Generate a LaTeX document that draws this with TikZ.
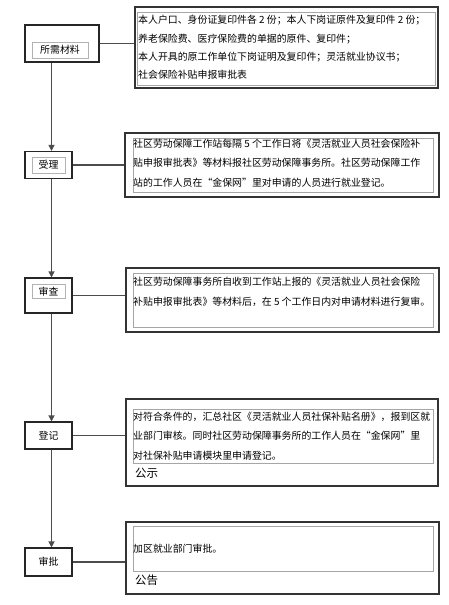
\documentclass[tikz,border=0pt]{standalone}
\usepackage{fontspec}
\newfontfamily\cjk{Noto Sans CJK SC}
\usetikzlibrary{arrows.meta,positioning,calc}

\begin{document}
\begin{tikzpicture}[x=1pt,y=-1pt,
  every node/.style={font=\cjk\fontsize{9.9}{19.5}\selectfont},
  stage/.style={draw=black!85,line width=1.1pt,inner sep=0pt,minimum width=47pt,minimum height=27pt},
  lbl/.style={draw=black!30,line width=0.5pt,inner sep=0pt,minimum height=16pt,minimum width=33pt},
  detail/.style={draw=black!80,line width=1.5pt,inner sep=0pt},
  frame/.style={draw=black!35,line width=0.6pt,inner sep=0pt,minimum width=300pt},
  txt/.style={align=left,inner sep=0pt,anchor=west},
  big/.style={anchor=west,inner sep=0pt,font=\cjk\fontsize{11.5}{14}\selectfont},
  link/.style={draw=black!70,line width=1.1pt},
  flow/.style={link,-{Triangle[length=6pt,width=6pt]}}]
\useasboundingbox (0,0) rectangle (448,605);
\node[stage,minimum width=74pt,minimum height=37pt] (s1) at (62,43.5) {};
\node[stage] (s2) at (48.5,165) {};
\node[stage,minimum height=35pt] (s3) at (48.5,295.5) {};
\node[stage] (s4) at (48.5,435.5) {};
\node[stage,minimum height=28pt] (s5) at (48.5,562) {};
\node[lbl,minimum width=56pt] (l1) at (60,50) {所需材料};
\node[lbl] (l2) at (48.5,165) {受理};
\node[lbl,minimum height=14pt] (l3) at (48.5,291.5) {审查};
\node[lbl,draw=none] (l4) at (48.5,436) {登记};
\node[lbl,draw=none] (l5) at (48.5,562) {审批};
\node[detail,minimum width=303pt,minimum height=81pt] (d1) at (286.5,47.5) {};
\node[frame,minimum width=298pt,minimum height=73pt] (f1) at (286,48.5) {};
\node[txt,font=\cjk\fontsize{9.9}{18.3}\selectfont] (t1) at (138,47.5) {本人户口、身份证复印件各 2 份；本人下岗证原件及复印件 2 份；\\养老保险费、医疗保险费的单据的原件、复印件；\\本人开具的原工作单位下岗证明及复印件；灵活就业协议书；\\社会保险补贴申报审批表};
\node[detail,minimum width=314pt,minimum height=64pt] (d2) at (282,165) {};
\node[frame,minimum height=54pt] (f2) at (283,165) {};
\node[txt] (t2) at (133,163) {社区劳动保障工作站每隔 5 个工作日将《灵活就业人员社会保险补\\贴申报审批表》等材料报社区劳动保障事务所。社区劳动保障工作\\站的工作人员在“金保网”里对申请的人员进行就业登记。};
\node[detail,minimum width=313pt,minimum height=64pt] (d3) at (282.5,300) {};
\node[frame,minimum height=54pt] (f3) at (283,300) {};
\node[txt] (t3) at (133,292) {社区劳动保障事务所自收到工作站上报的《灵活就业人员社会保险\\补贴申报审批表》等材料后，在 5 个工作日内对申请材料进行复审。};
\node[detail,minimum width=312pt,minimum height=87pt] (d4) at (282,442.5) {};
\node[frame,minimum height=54pt] (f4) at (283,436) {};
\node[txt] (t4) at (133,436) {对符合条件的，汇总社区《灵活就业人员社保补贴名册》，报到区就\\业部门审核。同时社区劳动保障事务所的工作人员在“金保网”里\\对社保补贴申请模块里申请登记。};
\node[big] (g4) at (135,473) {公示};
\node[detail,minimum width=313pt,minimum height=72pt] (d5) at (282.5,558) {};
\node[frame,minimum height=45pt] (f5) at (283,548.5) {};
\node[txt] (t5) at (133,549) {加区就业部门审批。};
\node[big] (g5) at (135,580) {公告};
\draw[link] (s1.east) -- (s1.east -| d1.west);
\draw[link] (s2.east) -- (s2.east -| d2.west);
\draw[link] (s3.east) -- (s3.east -| d3.west);
\draw[link] (s4.east) -- (s4.east -| d4.west);
\draw[link] (s5.east) -- (s5.east -| d5.west);
\foreach \a/\b in {s1/s2,s2/s3,s3/s4,s4/s5}
  \draw[flow] ([xshift=3pt]\b.north |- \a.south) -- ([xshift=3pt]\b.north);
\end{tikzpicture}
\end{document}
